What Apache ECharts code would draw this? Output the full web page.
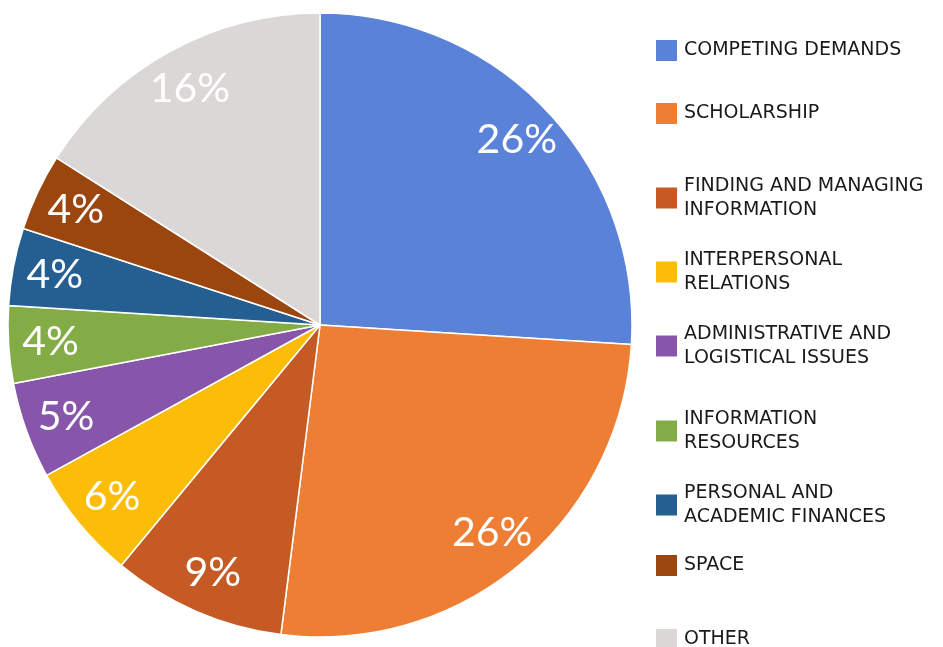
<!DOCTYPE html>
<html>
<head>
<meta charset="utf-8">
<script src="https://cdn.jsdelivr.net/npm/echarts@6/dist/echarts.min.js"></script>
<style>
  html, body { margin: 0; padding: 0; background: #fff; }
  #chart { width: 943px; height: 647px; }
</style>
</head>
<body>
<div id="chart"></div>
<script>
// categories and shares (%)
const categories = [
    'COMPETING DEMANDS', 'SCHOLARSHIP', 'FINDING AND MANAGING INFORMATION',
    'INTERPERSONAL RELATIONS', 'ADMINISTRATIVE AND LOGISTICAL ISSUES',
    'INFORMATION RESOURCES', 'PERSONAL AND ACADEMIC FINANCES', 'SPACE', 'OTHER'
];
const shares = [26, 26, 9, 6, 5, 4, 4, 4, 16];
// legend text as it wraps in the picture
const legendLabels = [
    'COMPETING DEMANDS', 'SCHOLARSHIP', 'FINDING AND MANAGING\nINFORMATION',
    'INTERPERSONAL\nRELATIONS', 'ADMINISTRATIVE AND\nLOGISTICAL ISSUES',
    'INFORMATION\nRESOURCES', 'PERSONAL AND\nACADEMIC FINANCES', 'SPACE', 'OTHER'
];
const colors = ['#5A82D8', '#ED7E33', '#C65A25', '#FBBD07', '#8756AA',
                '#84AC46', '#255E90', '#9C460F', '#DAD7D6'];

const legendTops = [49, 112, 185, 259, 333, 418, 492, 564, 638];

const chart = echarts.init(document.getElementById('chart'));

const pieData = categories.map((c, i) => ({ name: c, value: shares[i] }));

chart.setOption({
    animation: false,
    color: colors,
    legend: categories.map((c, i) => ({
        data: [c],
        orient: 'vertical',
        left: 654,
        top: legendTops[i] - 11,
        padding: 0,
        icon: 'rect',
        itemWidth: 23,
        itemHeight: 23,
        itemGap: 0,
        selectedMode: false,
        formatter: name => legendLabels[categories.indexOf(name)],
        textStyle: {
            fontFamily: 'DejaVu Sans',
            fontSize: 19,
            color: '#1a1a1a',
            lineHeight: 24,
            padding: [0, 0, 0, 1]
        }
    })),
    series: [
        {
            type: 'pie',
            center: [320, 325],
            radius: 312,
            startAngle: 90,
            clockwise: true,
            data: pieData,
            itemStyle: { borderColor: '#fff', borderWidth: 1.5 },
            label: { show: false },
            labelLine: { show: false },
            emphasis: { disabled: true }
        },
        {
            // transparent ring that carries the percentage labels near the rim
            type: 'pie',
            center: [320, 325],
            radius: [222, 312],
            startAngle: 90,
            clockwise: true,
            silent: true,
            data: pieData,
            itemStyle: { color: 'transparent' },
            label: {
                show: true,
                position: 'inside',
                formatter: p => p.value + '%',
                color: '#fff',
                fontFamily: 'Lato',
                fontSize: 41
            },
            labelLine: { show: false },
            emphasis: { disabled: true }
        }
    ]
});
</script>
</body>
</html>
